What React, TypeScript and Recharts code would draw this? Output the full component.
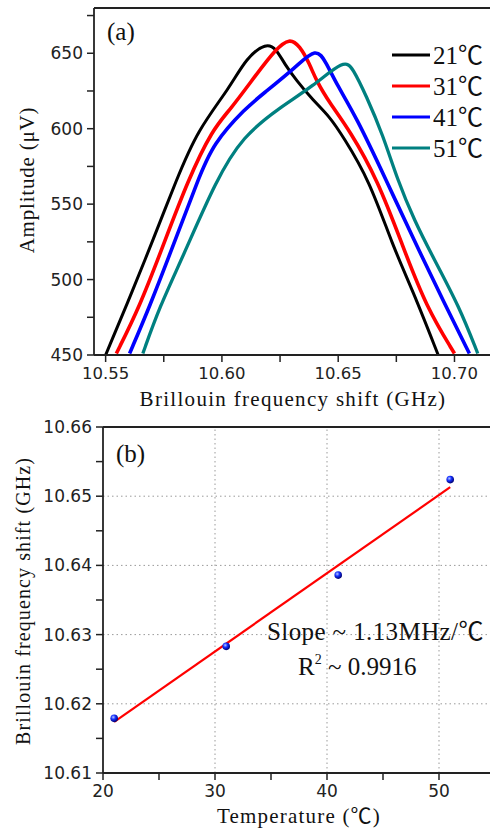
import { ComposedChart, Line, Scatter, XAxis, YAxis, ReferenceLine } from "recharts";

const SERIF = "'Liberation Serif', 'Noto Sans CJK SC', 'Times New Roman', serif";
const SANS = "'DejaVu Sans', 'Liberation Sans', sans-serif";
const AXIS = "#222";

// (a) Brillouin gain spectra (GHz -> uV)
const shift21 = [10.550, 10.5617, 10.5703, 10.5804, 10.5895, 10.6033, 10.6105, 10.6191, 10.6233, 10.6269, 10.632, 10.6391, 10.6463, 10.652, 10.6634, 10.6735, 10.682, 10.693];
const amp21 = [450, 493, 526, 566, 599, 627, 647, 657, 653, 643, 632, 619, 608, 595, 566, 522, 493, 450];

const shift31 = [10.5546, 10.5646, 10.5746, 10.5854, 10.5961, 10.6033, 10.6148, 10.6233, 10.6291, 10.6334, 10.6377, 10.6405, 10.6463, 10.6549, 10.667, 10.6778, 10.6878, 10.700];
const amp31 = [451, 482, 522, 566, 600, 612, 636, 653, 660, 655, 643, 632, 617, 599, 566, 522, 482, 451];

const shift41 = [10.5603, 10.5689, 10.5789, 10.5897, 10.5961, 10.6104, 10.6176, 10.632, 10.6405, 10.6448, 10.6491, 10.6577, 10.6706, 10.682, 10.6964, 10.7064];
const amp41 = [451, 482, 522, 566, 590, 614, 623, 641, 654, 644, 630, 608, 566, 528, 482, 451];

const shift51 = [10.566, 10.5732, 10.5832, 10.5975, 10.609, 10.6248, 10.6391, 10.6527, 10.6563, 10.662, 10.6692, 10.6755, 10.6828, 10.6907, 10.7021, 10.710];
const amp51 = [451, 482, 515, 566, 595, 614, 628, 646, 640, 622, 596, 566, 539, 515, 482, 451];

const temps = ["21℃", "31℃", "41℃", "51℃"];
const colors = ["#000000", "#ff0000", "#0000ff", "#008080"];
const widths = [3, 3.6, 3.6, 3.3];

const shiftTicks = [10.55, 10.575, 10.6, 10.625, 10.65, 10.675, 10.7];
const ampTicks = [450, 475, 500, 525, 550, 575, 600, 625, 650, 675];

// (b) peak shift vs temperature
const temperature = [21, 31, 41, 51];
const peakShift = [10.6179, 10.6283, 10.6386, 10.6524];
const fitT = [21, 51];
const fitShift = [10.6174, 10.6513];

const tempTicks = [20, 25, 30, 35, 40, 45, 50, 55];
const bfsTicks = [10.61, 10.615, 10.62, 10.625, 10.63, 10.635, 10.64, 10.645, 10.65, 10.655, 10.66];
const gridT = [30, 40, 50];
const gridBfs = [10.62, 10.63, 10.64, 10.65];

const zip = (xs: number[], ys: number[]) => xs.map((x, i) => ({ x, y: ys[i] }));
const spectra = [zip(shift21, amp21), zip(shift31, amp31), zip(shift41, amp41), zip(shift51, amp51)];
const points = zip(temperature, peakShift);
const fit = zip(fitT, fitShift);

const TICK = 7;
const tickLineStyle = { stroke: AXIS, strokeWidth: 1.5 };

// labels only on the major ticks; Recharts draws every tick line itself
function leftLabel(isMajor: (v: number) => boolean, fmt: (v: number) => string, fontSize: number) {
  return (props: any) => {
    const { x, y, payload } = props;
    if (!isMajor(payload.value)) return <g />;
    return (
      <text x={x} y={y} textAnchor="end" dominantBaseline="central" fontFamily={SANS} fontSize={fontSize} fill="#222">
        {fmt(payload.value)}
      </text>
    );
  };
}

function bottomLabel(isMajor: (v: number) => boolean, fmt: (v: number) => string, fontSize: number) {
  return (props: any) => {
    const { x, y, payload } = props;
    if (!isMajor(payload.value)) return <g />;
    return (
      <text x={x} y={y + 13.5} textAnchor="middle" fontFamily={SANS} fontSize={fontSize} fill="#222">
        {fmt(payload.value)}
      </text>
    );
  };
}

export default function App() {
  return (
    <div style={{ position: "absolute", left: 0, top: 0, width: 490, height: 831, overflow: "hidden", background: "#fff" }}>
      <div style={{ position: "absolute", left: 0, top: 0 }}>
        <ComposedChart width={510} height={415} margin={{ top: 8, right: 9, bottom: 0, left: 0 }}>
          <XAxis
            type="number"
            dataKey="x"
            domain={[10.545, 10.72]}
            allowDataOverflow
            ticks={shiftTicks}
            interval={0}
            tickSize={TICK}
            tickMargin={3}
            tickLine={tickLineStyle}
            tick={bottomLabel((v) => Math.round(v * 1000) % 50 === 0, (v) => v.toFixed(2), 16.5)}
            axisLine={{ stroke: AXIS, strokeWidth: 1.8 }}
            height={60}
          />
          <YAxis
            type="number"
            dataKey="y"
            domain={[450, 680]}
            allowDataOverflow
            ticks={ampTicks}
            interval={0}
            tickSize={TICK}
            tickMargin={4}
            tickLine={tickLineStyle}
            tick={leftLabel((v) => v % 50 === 0, (v) => String(v), 17)}
            axisLine={{ stroke: AXIS, strokeWidth: 1.8 }}
            width={94}
          />
          <ReferenceLine y={680} stroke={AXIS} strokeWidth={1.8} />
          {spectra.map((d, i) => (
            <Line
              key={temps[i]}
              data={d}
              dataKey="y"
              type="basis"
              stroke={colors[i]}
              strokeWidth={widths[i]}
              dot={false}
              isAnimationActive={false}
            />
          ))}
        </ComposedChart>
      </div>

      <div style={{ position: "absolute", left: 0, top: 415 }}>
        <ComposedChart width={500} height={416} margin={{ top: 12, right: 5, bottom: 0, left: 0 }}>
          <defs>
            <radialGradient id="ball" cx="38%" cy="35%" r="65%">
              <stop offset="0" stopColor="#b8c8ff" />
              <stop offset="0.45" stopColor="#1530ff" />
              <stop offset="1" stopColor="#000070" />
            </radialGradient>
          </defs>
          <XAxis
            type="number"
            dataKey="x"
            domain={[20, 55]}
            allowDataOverflow
            ticks={tempTicks}
            interval={0}
            tickSize={TICK}
            tickMargin={3}
            tickLine={tickLineStyle}
            tick={bottomLabel((v) => v % 10 === 0, (v) => String(v), 17)}
            axisLine={{ stroke: AXIS, strokeWidth: 1.8 }}
            height={58}
          />
          <YAxis
            type="number"
            dataKey="y"
            domain={[10.61, 10.66]}
            allowDataOverflow
            ticks={bfsTicks}
            interval={0}
            tickSize={TICK}
            tickMargin={4}
            tickLine={tickLineStyle}
            tick={leftLabel((v) => Math.round(v * 1000) % 10 === 0, (v) => v.toFixed(2), 17)}
            axisLine={{ stroke: AXIS, strokeWidth: 1.8 }}
            width={103}
          />
          {gridT.map((t) => (
            <ReferenceLine key={"gx" + t} x={t} stroke="#9a9a9a" strokeWidth={1} strokeDasharray="1.5 3" />
          ))}
          {gridBfs.map((v) => (
            <ReferenceLine key={"gy" + v} y={v} stroke="#9a9a9a" strokeWidth={1} strokeDasharray="1.5 3" />
          ))}
          <ReferenceLine y={10.66} stroke={AXIS} strokeWidth={1.8} />
          <Line data={fit} dataKey="y" type="linear" stroke="#ff0000" strokeWidth={2.2} dot={false} isAnimationActive={false} />
          <Scatter
            data={points}
            dataKey="y"
            fill="#1530ff"
            isAnimationActive={false}
            shape={(p: any) => <circle cx={p.cx} cy={p.cy} r={3.8} fill="url(#ball)" />}
          />
        </ComposedChart>
      </div>

      <svg width={490} height={831} style={{ position: "absolute", left: 0, top: 0, pointerEvents: "none" }}>
        <text x={107} y={40} fontFamily={SERIF} fontSize={25} fill="#111">(a)</text>
        {temps.map((t, i) => (
          <g key={t}>
            <line x1={392} x2={430} y1={55 + i * 31} y2={55 + i * 31} stroke={colors[i]} strokeWidth={3} />
            <text x={433} y={64 + i * 31} fontFamily={SERIF} fontSize={25} fill="#111">{t}</text>
          </g>
        ))}
        <text x={293} y={406} textAnchor="middle" fontFamily={SERIF} fontSize={21} letterSpacing={1.3} fill="#111">
          Brillouin frequency shift (GHz)
        </text>
        <text x={27} y={180} transform="rotate(-90 27 180)" textAnchor="middle" dominantBaseline="central" fontFamily={SERIF} fontSize={21} letterSpacing={0.8} fill="#111">
          Amplitude (μV)
        </text>

        <text x={116} y={462} fontFamily={SERIF} fontSize={25} fill="#111">(b)</text>
        <text x={267} y={640} fontFamily={SERIF} fontSize={25} letterSpacing={0.4} fill="#111">Slope ~ 1.13MHz/℃</text>
        <text x={298} y={675} fontFamily={SERIF} fontSize={25} fill="#111">
          R<tspan dy={-11} fontSize={14}>2</tspan>
          <tspan dy={11}> ~ 0.9916</tspan>
        </text>
        <text x={23} y={601} transform="rotate(-90 23 601)" textAnchor="middle" dominantBaseline="central" fontFamily={SERIF} fontSize={20} letterSpacing={1.1} fill="#111">
          Brillouin frequency shift (GHz)
        </text>
        <text x={299} y={823} textAnchor="middle" fontFamily={SERIF} fontSize={21} letterSpacing={1.2} fill="#111">
          Temperature (℃)
        </text>
      </svg>
    </div>
  );
}
